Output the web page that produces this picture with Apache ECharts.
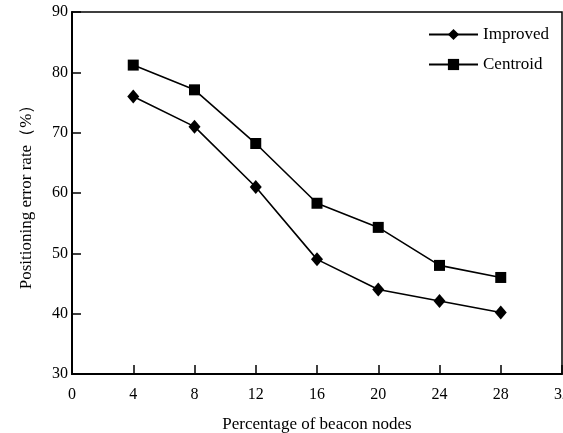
<!DOCTYPE html>
<html><head><meta charset="utf-8">
<script src="https://cdn.jsdelivr.net/npm/echarts@6/dist/echarts.min.js"></script>
<style>html,body{margin:0;padding:0;background:#fff}#c{width:563px;height:433px}</style>
</head><body><div id="c"></div>
<script>
var xValues = [4, 8, 12, 16, 20, 24, 28];
var improved = [76, 71, 61, 49, 44, 42.1, 40.2];
var centroid = [81.2, 77.1, 68.2, 58.3, 54.3, 48, 46];
var seriesNames = ['Improved', 'Centroid'];
var font = "'Liberation Serif','Times New Roman',serif";
function pairs(v){ return xValues.map(function(x,i){ return [x, v[i]]; }); }
var chart = echarts.init(document.getElementById('c'));
chart.setOption({
  animation: false,
  backgroundColor: '#fff',
  textStyle: {fontFamily: font, color: '#000'},
  grid: {left: 72, right: 1, top: 12, bottom: 59, outerBoundsMode: 'none', containLabel: false,
         show: true, borderColor: '#000', borderWidth: 1.5},
  legend: {
    orient: 'vertical', left: 428, top: 26, padding: 0, itemWidth: 49, itemHeight: 14, itemGap: 13,
    textStyle: {fontFamily: font, fontSize: 17, color: '#000'},
    data: seriesNames
  },
  xAxis: {
    type: 'value', min: 0, max: 32, interval: 4,
    name: 'Percentage of beacon nodes', nameLocation: 'middle', nameGap: 42,
    nameTextStyle: {fontFamily: font, fontSize: 17, color: '#000'},
    axisLine: {lineStyle: {color: '#000', width: 2}},
    axisTick: {inside: true, length: 9, lineStyle: {color: '#000', width: 1.5}},
    axisLabel: {fontFamily: font, fontSize: 16, color: '#000', margin: 13},
    splitLine: {show: false}
  },
  yAxis: {
    type: 'value', min: 30, max: 90, interval: 10,
    name: 'Positioning error rate（%）', nameLocation: 'middle', nameGap: 37,
    nameTextStyle: {fontFamily: font, fontSize: 17, color: '#000'},
    axisLine: {show: true, lineStyle: {color: '#000', width: 2}},
    axisTick: {show: true, inside: true, length: 9, lineStyle: {color: '#000', width: 1.5}},
    axisLabel: {fontFamily: font, fontSize: 16, color: '#000', margin: 4},
    splitLine: {show: false}
  },
  series: [
    {name: seriesNames[0], type: 'line', data: pairs(improved), symbol: 'diamond', symbolSize: [12,14],
     itemStyle: {color: '#000'}, lineStyle: {color: '#000', width: 1.6}},
    {name: seriesNames[1], type: 'line', data: pairs(centroid), symbol: 'rect', symbolSize: 11,
     itemStyle: {color: '#000'}, lineStyle: {color: '#000', width: 1.6}}
  ]
});
</script></body></html>
